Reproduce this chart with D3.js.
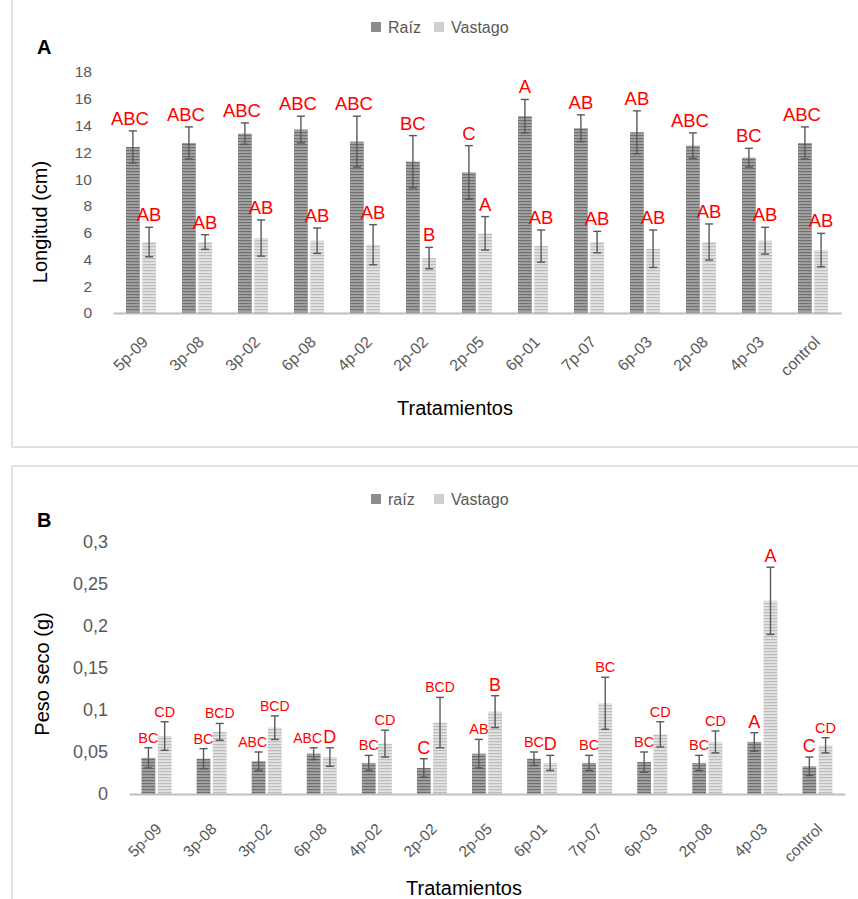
<!DOCTYPE html>
<html>
<head>
<meta charset="utf-8">
<script src="https://cdn.jsdelivr.net/npm/d3@7"></script>
<style>
  body { margin: 0; background: #fff; }
  svg { display: block; font-family: "Liberation Sans", Arial, sans-serif; }
</style>
</head>
<body>
<div id="chart"></div>
<script>
const treatments = ['5p-09', '3p-08', '3p-02', '6p-08', '4p-02', '2p-02', '2p-05', '6p-01', '7p-07', '6p-03', '2p-08', '4p-03', 'control'];

// Panel A: longitud (cm)
const longRaiz = [12.4, 12.7, 13.4, 13.7, 12.8, 11.3, 10.5, 14.7, 13.8, 13.5, 12.5, 11.6, 12.7];
const longRaizErr = [1.2, 1.2, 0.8, 1.0, 1.9, 1.95, 2.0, 1.25, 1.0, 1.6, 0.95, 0.7, 1.2];
const longVast = [5.3, 5.3, 5.6, 5.4, 5.1, 4.1, 5.95, 5.0, 5.3, 4.8, 5.3, 5.4, 4.7];
const longVastErr = [1.1, 0.55, 1.35, 0.95, 1.5, 0.8, 1.25, 1.2, 0.8, 1.4, 1.35, 1.0, 1.25];
const longRaizLetters = ['ABC', 'ABC', 'ABC', 'ABC', 'ABC', 'BC', 'C', 'A', 'AB', 'AB', 'ABC', 'BC', 'ABC'];
const longVastLetters = ['AB', 'AB', 'AB', 'AB', 'AB', 'B', 'A', 'AB', 'AB', 'AB', 'AB', 'AB', 'AB'];
const longTicks = [0, 2, 4, 6, 8, 10, 12, 14, 16, 18];

// Panel B: peso seco (g)
const pesoRaiz = [0.043, 0.042, 0.039, 0.048, 0.037, 0.031, 0.048, 0.042, 0.037, 0.038, 0.037, 0.062, 0.033];
const pesoRaizErr = [0.012, 0.012, 0.011, 0.007, 0.009, 0.011, 0.017, 0.008, 0.009, 0.012, 0.009, 0.011, 0.011];
const pesoVast = [0.069, 0.074, 0.079, 0.044, 0.060, 0.085, 0.098, 0.037, 0.108, 0.071, 0.062, 0.230, 0.058];
const pesoVastErr = [0.017, 0.010, 0.014, 0.011, 0.016, 0.030, 0.019, 0.009, 0.031, 0.015, 0.013, 0.040, 0.009];
const pesoRaizLetters = ['BC', 'BC', 'ABC', 'ABC', 'BC', 'C', 'AB', 'BC', 'BC', 'BC', 'BC', 'A', 'C'];
const pesoVastLetters = ['CD', 'BCD', 'BCD', 'D', 'CD', 'BCD', 'B', 'D', 'BC', 'CD', 'CD', 'A', 'CD'];
const pesoTicks = [0, 0.05, 0.1, 0.15, 0.2, 0.25, 0.3];

const W = 858, H = 899;
const textGray = '#595959';

const svg = d3.select('#chart').append('svg')
  .attr('width', W)
  .attr('height', H);

// striped fills like the excel pattern
const defs = svg.append('defs');
function stripes(id, bg, fg) {
  const p = defs.append('pattern')
    .attr('id', id)
    .attr('patternUnits', 'userSpaceOnUse')
    .attr('width', 6)
    .attr('height', 3);
  p.append('rect').attr('width', 6).attr('height', 3).attr('fill', bg);
  p.append('rect').attr('width', 6).attr('height', 1.2).attr('fill', fg);
}
stripes('raizFill', '#a3a3a3', '#6f6f6f');
stripes('vastFill', '#e3e3e3', '#bdbdbd');

function drawPanel(o) {
  const g = svg.append('g');

  // frame
  g.append('rect')
    .attr('x', 12).attr('y', o.frameTop)
    .attr('width', 900).attr('height', o.frameH)
    .attr('fill', 'none')
    .attr('stroke', '#d9d9d9')
    .attr('stroke-width', 1.5);

  const x0 = d3.scaleBand()
    .domain(treatments)
    .range([o.left, o.right]);

  const x1 = d3.scaleBand()
    .domain(['raiz', 'vast'])
    .range([x0.bandwidth() / 2 - 15, x0.bandwidth() / 2 + 15])
    .paddingInner(0.15);

  const y = d3.scaleLinear()
    .domain([0, o.ticks[o.ticks.length - 1]])
    .range([o.base, o.top]);

  // y axis labels
  const yAxis = g.append('g')
    .attr('transform', `translate(${o.tickRight},0)`)
    .call(d3.axisLeft(y).tickValues(o.ticks).tickSize(0).tickPadding(0)
      .tickFormat(o.fmt));
  yAxis.select('.domain').remove();
  yAxis.selectAll('text')
    .style('font-size', o.tickSize + 'px')
    .style('font-family', '"Liberation Sans", Arial, sans-serif')
    .attr('fill', textGray);

  const rows = treatments.map((t, i) => ({
    t,
    raiz: o.raiz[i], raizErr: o.raizErr[i], raizLet: o.raizLet[i],
    vast: o.vast[i], vastErr: o.vastErr[i], vastLet: o.vastLet[i]
  }));

  const groups = g.selectAll('.grp')
    .data(rows)
    .enter()
    .append('g')
    .attr('class', 'grp')
    .attr('transform', d => `translate(${x0(d.t)},0)`);

  const series = [
    { key: 'raiz', fill: 'url(#raizFill)' },
    { key: 'vast', fill: 'url(#vastFill)' }
  ];

  series.forEach(s => {
    const bw = x1.bandwidth();
    groups.append('rect')
      .attr('x', x1(s.key))
      .attr('y', d => y(d[s.key]))
      .attr('width', bw)
      .attr('height', d => y(0) - y(d[s.key]))
      .attr('fill', s.fill);

    const cx = x1(s.key) + bw / 2;
    const err = groups.append('g').attr('stroke', '#595959').attr('stroke-width', 1.4);
    err.append('line')
      .attr('x1', cx).attr('x2', cx)
      .attr('y1', d => y(d[s.key] - d[s.key + 'Err']))
      .attr('y2', d => y(d[s.key] + d[s.key + 'Err']));
    [-1, 1].forEach(sign => {
      err.append('line')
        .attr('x1', cx - 4).attr('x2', cx + 4)
        .attr('y1', d => y(d[s.key] + sign * d[s.key + 'Err']))
        .attr('y2', d => y(d[s.key] + sign * d[s.key + 'Err']));
    });

    // raíz letters with 3 chars lean left a little, like the original
    groups.append('text')
      .attr('x', d => cx - (s.key === 'raiz' && d[s.key + 'Let'].length > 2 ? o.wideShift : 0))
      .attr('y', d => y(d[s.key] + d[s.key + 'Err']) - o.letterGap)
      .attr('text-anchor', 'middle')
      .attr('fill', '#ff0000')
      .style('font-size', d => o.letterSize(d[s.key + 'Let']) + 'px')
      .text(d => d[s.key + 'Let']);
  });

  // x axis
  const xAxis = g.append('g')
    .attr('transform', `translate(0,${o.base})`)
    .call(d3.axisBottom(x0).tickSize(0).tickSizeOuter(0));
  xAxis.select('.domain')
    .attr('stroke', '#bfbfbf')
    .attr('stroke-width', 2);
  xAxis.selectAll('text')
    .attr('y', 0)
    .attr('dy', 0)
    .attr('text-anchor', 'end')
    .attr('transform', `translate(${o.xLabDx},${o.xLabDy}) rotate(-45)`)
    .style('font-size', o.xLabSize + 'px')
    .style('font-family', '"Liberation Sans", Arial, sans-serif')
    .attr('fill', textGray);

  // titles
  g.append('text')
    .attr('x', 37).attr('y', o.letterY)
    .style('font-size', '20px')
    .style('font-weight', 'bold')
    .attr('fill', '#000')
    .text(o.panel);

  g.append('text')
    .attr('transform', `translate(${o.yTitleX},${o.yTitleY}) rotate(-90)`)
    .attr('text-anchor', 'middle')
    .style('font-size', '20px')
    .attr('fill', '#000')
    .text(o.yTitle);

  g.append('text')
    .attr('x', o.xTitleX).attr('y', o.xTitleY)
    .attr('text-anchor', 'middle')
    .style('font-size', '20px')
    .attr('fill', '#000')
    .text('Tratamientos');

  // legend
  const leg = g.append('g').attr('transform', `translate(0,${o.legendY})`);
  o.legend.forEach((name, i) => {
    const lx = i === 0 ? 371 : 434;
    leg.append('rect')
      .attr('x', lx).attr('y', -11)
      .attr('width', 10).attr('height', 10)
      .attr('fill', i === 0 ? '#8c8c8c' : '#cfcfcf');
    leg.append('text')
      .attr('x', lx + 17).attr('y', 0)
      .style('font-size', '16px')
      .attr('fill', textGray)
      .text(name);
  });
}

drawPanel({
  panel: 'A',
  frameTop: -10, frameH: 457,
  left: 113, right: 841, base: 313, top: 72,
  ticks: longTicks, fmt: d3.format('d'), tickRight: 92, tickSize: 15.5,
  raiz: longRaiz, raizErr: longRaizErr, raizLet: longRaizLetters,
  vast: longVast, vastErr: longVastErr, vastLet: longVastLetters,
  letterGap: 6, letterSize: () => 18.5, wideShift: 3,
  xLabDx: 8, xLabDy: 30, xLabSize: 16,
  letterY: 54, yTitle: 'Longitud (cm)', yTitleX: 47, yTitleY: 222,
  xTitleX: 455, xTitleY: 415,
  legend: ['Raíz', 'Vastago'], legendY: 33
});

drawPanel({
  panel: 'B',
  frameTop: 466, frameH: 500,
  left: 129, right: 845, base: 794, top: 542,
  ticks: pesoTicks, fmt: d => String(d).replace('.', ','), tickRight: 108, tickSize: 18,
  raiz: pesoRaiz, raizErr: pesoRaizErr, raizLet: pesoRaizLetters,
  vast: pesoVast, vastErr: pesoVastErr, vastLet: pesoVastLetters,
  letterGap: 5, letterSize: t => t.length === 1 ? 18 : (t.length === 3 ? 14 : 14.5), wideShift: 6,
  xLabDx: 6, xLabDy: 36, xLabSize: 15.5,
  letterY: 527, yTitle: 'Peso seco (g)', yTitleX: 49, yTitleY: 674,
  xTitleX: 464, xTitleY: 895,
  legend: ['raíz', 'Vastago'], legendY: 505
});
</script>
</body>
</html>
